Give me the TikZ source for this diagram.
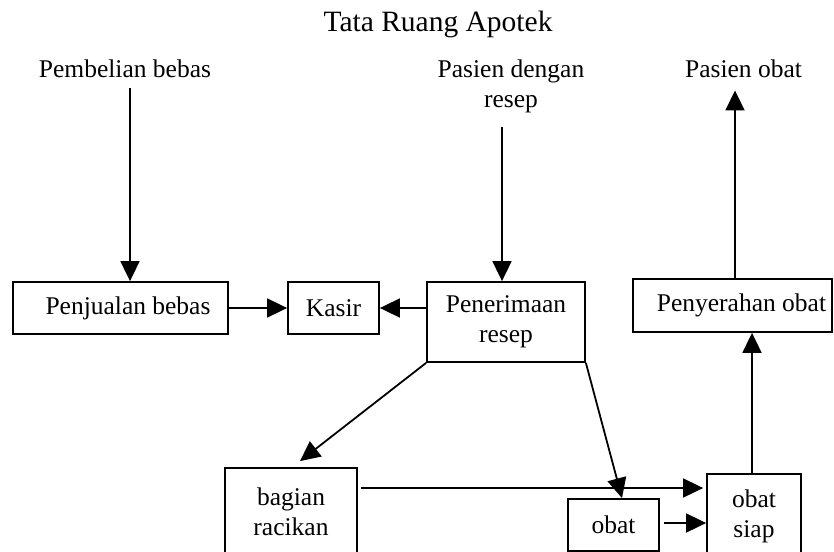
\documentclass[tikz,border=0pt]{standalone}
\usepackage{fontspec}
\setmainfont{Liberation Serif}
\usetikzlibrary{arrows.meta}
\begin{document}
\begin{tikzpicture}[x=1pt,y=-1pt,
  box/.style={draw, line width=1.8pt, inner sep=0pt, align=center, font=\fontsize{25.5}{30}\selectfont},
  lbl/.style={align=center, inner sep=0pt, font=\fontsize{25.5}{30}\selectfont},
  arr/.style={line width=1.8pt, -{Triangle[length=20pt,width=19pt]}}]
\useasboundingbox (0,0) rectangle (834,551);
\clip (0,0) rectangle (834,551);
% title and free labels
\node[inner sep=0pt, anchor=base, font=\fontsize{29.5}{34}\selectfont] (title) at (438,32) {Tata Ruang Apotek};
\node[lbl, anchor=base] (pb) at (125,77) {Pembelian bebas};
\node[lbl, anchor=north] (pdr) at (511,60) {Pasien dengan\\resep};
\node[lbl, anchor=base] (po) at (743.5,77) {Pasien obat};
% boxes
\node[box, minimum width=215, minimum height=52] (pj) at (120.5,308) {\hspace*{15pt}Penjualan bebas};
\node[box, minimum width=91, minimum height=52] (ks) at (333.5,308) {Kasir};
\node[box, minimum width=158, minimum height=80] (pr) at (506,322) {Penerimaan\\resep};
\node[box, minimum width=199, minimum height=53] (py) at (732.5,305.5) {\hspace*{18pt}Penyerahan obat};
\node[box, minimum width=132, minimum height=88] (br) at (291,512) {bagian\\racikan};
\node[box, minimum width=91, minimum height=52] (ob) at (613.5,525) {obat};
\node[box, minimum width=94, minimum height=84] (os) at (754,516) {obat\\siap};
% connectors
\draw[arr, shorten <=11pt] ([xshift=5pt]pb.south) -- ([xshift=5pt]pb.south |- pj.north);
\draw[arr, shorten <=13pt] ([xshift=-9pt]pdr.south) -- ([xshift=-9pt]pdr.south |- pr.north);
\draw[arr, shorten >=13pt] ([xshift=2.5pt]py.north) -- ([xshift=2.5pt]py.north |- po.south);
\draw[arr] (pj.east) -- (ks.west);
\draw[arr] (pr.west |- ks.east) -- (ks.east);
\draw[arr] (pr.south west) -- ([shift={(9,-6)}]br.north);
\draw[arr] (pr.south east) -- ([xshift=8.5pt]ob.north);
\draw[arr, shorten <=3pt, shorten >=3pt] ([yshift=24pt]br.east) -- ([yshift=24pt]br.east -| os.west);
\draw[arr, shorten <=4pt] ([yshift=2pt]ob.east) -- ([yshift=2pt]ob.east -| os.west);
\draw[arr] ([xshift=-2pt]os.north) -- ([xshift=-2pt]os.north |- py.south);
\end{tikzpicture}
\end{document}
